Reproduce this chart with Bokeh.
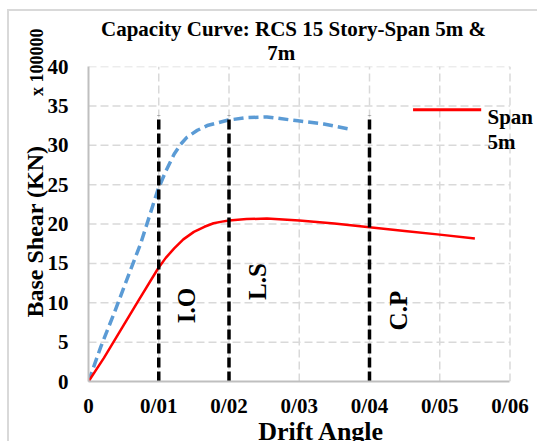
import math
from bokeh.plotting import figure
from bokeh.models import Label, FixedTicker, Range1d, Title
from bokeh.embed import file_html
from bokeh.resources import INLINE

# ---- data ----
drift_red = [0, 0.0022, 0.0049, 0.007, 0.0099, 0.011, 0.0122, 0.0135, 0.015, 0.0165, 0.0178, 0.019, 0.02,
             0.0225, 0.0254, 0.03, 0.035, 0.04, 0.045, 0.05, 0.055]
shear_red = [0, 3.0, 7.0, 10.1, 14.35, 15.7, 16.9, 18.05, 19.0, 19.65, 20.1, 20.3, 20.45,
             20.62, 20.7, 20.45, 20.05, 19.6, 19.1, 18.65, 18.15]
drift_blue = [0, 0.00175, 0.00364, 0.00553, 0.00742, 0.0099, 0.011, 0.0122, 0.0131, 0.014, 0.0155, 0.0169,
              0.0199, 0.0225, 0.0254, 0.0298, 0.0335, 0.0369]
shear_blue = [0, 4.4, 8.65, 13.1, 17.5, 24.4, 26.7, 28.9, 30.1, 31.0, 31.9, 32.5,
              33.2, 33.5, 33.6, 33.1, 32.7, 32.1]
limit_x = [0.01, 0.02, 0.04]
limit_top = [33.8, 33.8, 33.8]
limit_names = ["I.O", "L.S", "C.P"]
limit_label_x = [0.0139, 0.0240, 0.0441]
limit_label_y = [9.65, 12.7, 9.0]
x_ticks = [0, 0.01, 0.02, 0.03, 0.04, 0.05, 0.06]
x_tick_labels = ["0", "0/01", "0/02", "0/03", "0/04", "0/05", "0/06"]
y_ticks = [0, 5, 10, 15, 20, 25, 30, 35, 40]
legend_label = ["Span", "5m"]
title_lines = ["Capacity Curve: RCS 15 Story-Span 5m &", "7m"]
x_label = "Drift Angle"
y_label = "Base Shear (KN)"
y_multiplier = "x 100000"

FONT = "Liberation Serif"
X_MAX = x_ticks[-1]
Y_MAX = y_ticks[-1]

# frame extends to the right edge of the canvas so the legend text is not clipped
p = figure(width=530, height=432, output_backend="svg", toolbar_location=None,
           x_range=Range1d(0, 0.0642), y_range=Range1d(0, Y_MAX),
           min_border_left=79, min_border_right=0, min_border_top=55, min_border_bottom=61)
p.styles = {"margin-left": "7px", "margin-top": "9px",
            "border-left": "2px solid #d9d9d9", "border-top": "2px solid #d9d9d9"}
p.outline_line_color = None
p.background_fill_color = "white"
p.border_fill_color = "white"
p.grid.visible = False

for ax in (p.xaxis[0], p.yaxis[0]):
    ax.axis_line_color = "#bfbfbf"
    ax.axis_line_width = 2
    ax.major_tick_out = 0
    ax.major_tick_in = 0
    ax.minor_tick_out = 0
    ax.minor_tick_in = 0
    ax.major_tick_line_color = None
    ax.minor_tick_line_color = None
    ax.major_label_text_font = FONT
    ax.major_label_text_font_style = "bold"
    ax.major_label_text_font_size = "21px"
    ax.major_label_text_color = "black"

p.xaxis.ticker = FixedTicker(ticks=x_ticks)
p.xaxis.bounds = (0, X_MAX)
p.xaxis.major_label_overrides = {t: l for t, l in zip(x_ticks, x_tick_labels)}
p.xaxis.major_label_standoff = 12
p.yaxis.ticker = FixedTicker(ticks=y_ticks)
p.yaxis.bounds = (0, Y_MAX)
p.yaxis.major_label_standoff = 20

# dashed grid lines, drawn from the tick arrays
p.segment(x0=x_ticks[1:], y0=[0] * 6, x1=x_ticks[1:], y1=[Y_MAX] * 6,
          line_color="#d9d9d9", line_width=1.5, line_dash="8 4")
p.segment(x0=[0] * 8, y0=y_ticks[1:], x1=[X_MAX] * 8, y1=y_ticks[1:],
          line_color="#d9d9d9", line_width=1.5, line_dash="8 4")

# curves
p.line(drift_blue, shear_blue, line_color="#5b9bd5", line_width=3.5, line_dash="10 5",
       line_join="round")
p.line(drift_red, shear_red, line_color="#ff0000", line_width=2.5, line_join="round")

# limit state lines
p.segment(x0=limit_x, y0=[0, 0, 0], x1=limit_x, y1=limit_top,
          line_color="black", line_width=3.5, line_dash="10 4", line_cap="butt")

for name, lx, ly in zip(limit_names, limit_label_x, limit_label_y):
    p.add_layout(Label(x=lx, y=ly, text=name, angle=math.pi / 2,
                       text_align="center", text_baseline="middle", text_color="black",
                       text_font=FONT, text_font_style="bold", text_font_size="25px"))

# legend
p.segment(x0=[0.0462], y0=[34.5], x1=[0.0559], y1=[34.5], line_color="#ff0000", line_width=3)
p.add_layout(Label(x=0.0568, y=33.54, text=legend_label[0], text_align="left",
                   text_baseline="alphabetic", text_font=FONT, text_font_style="bold",
                   text_font_size="21px", text_color="black"))
p.add_layout(Label(x=0.0568, y=30.4, text=legend_label[1], text_align="left",
                   text_baseline="alphabetic", text_font=FONT, text_font_style="bold",
                   text_font_size="21px", text_color="black"))

def title(text, side, size, align, offset, standoff, valign):
    p.add_layout(Title(text=text, align=align, offset=offset, standoff=standoff,
                       vertical_align=valign, text_font=FONT, text_font_style="bold",
                       text_font_size=size, text_color="black"), side)

# title (two lines, nearest line first)
title(title_lines[1], "above", "21px", "left", 178.7, 3, "bottom")
title(title_lines[0], "above", "21px", "left", 12.5, -7, "bottom")
# y axis texts
title(y_label, "left", "24px", "left", 64, -6, "bottom")
title(y_multiplier, "left", "18px", "right", -38, -48, "bottom")
# x axis label
title(x_label, "below", "26px", "left", 169.7, -8, "top")

open("out.html", "w").write(file_html(p, INLINE))
